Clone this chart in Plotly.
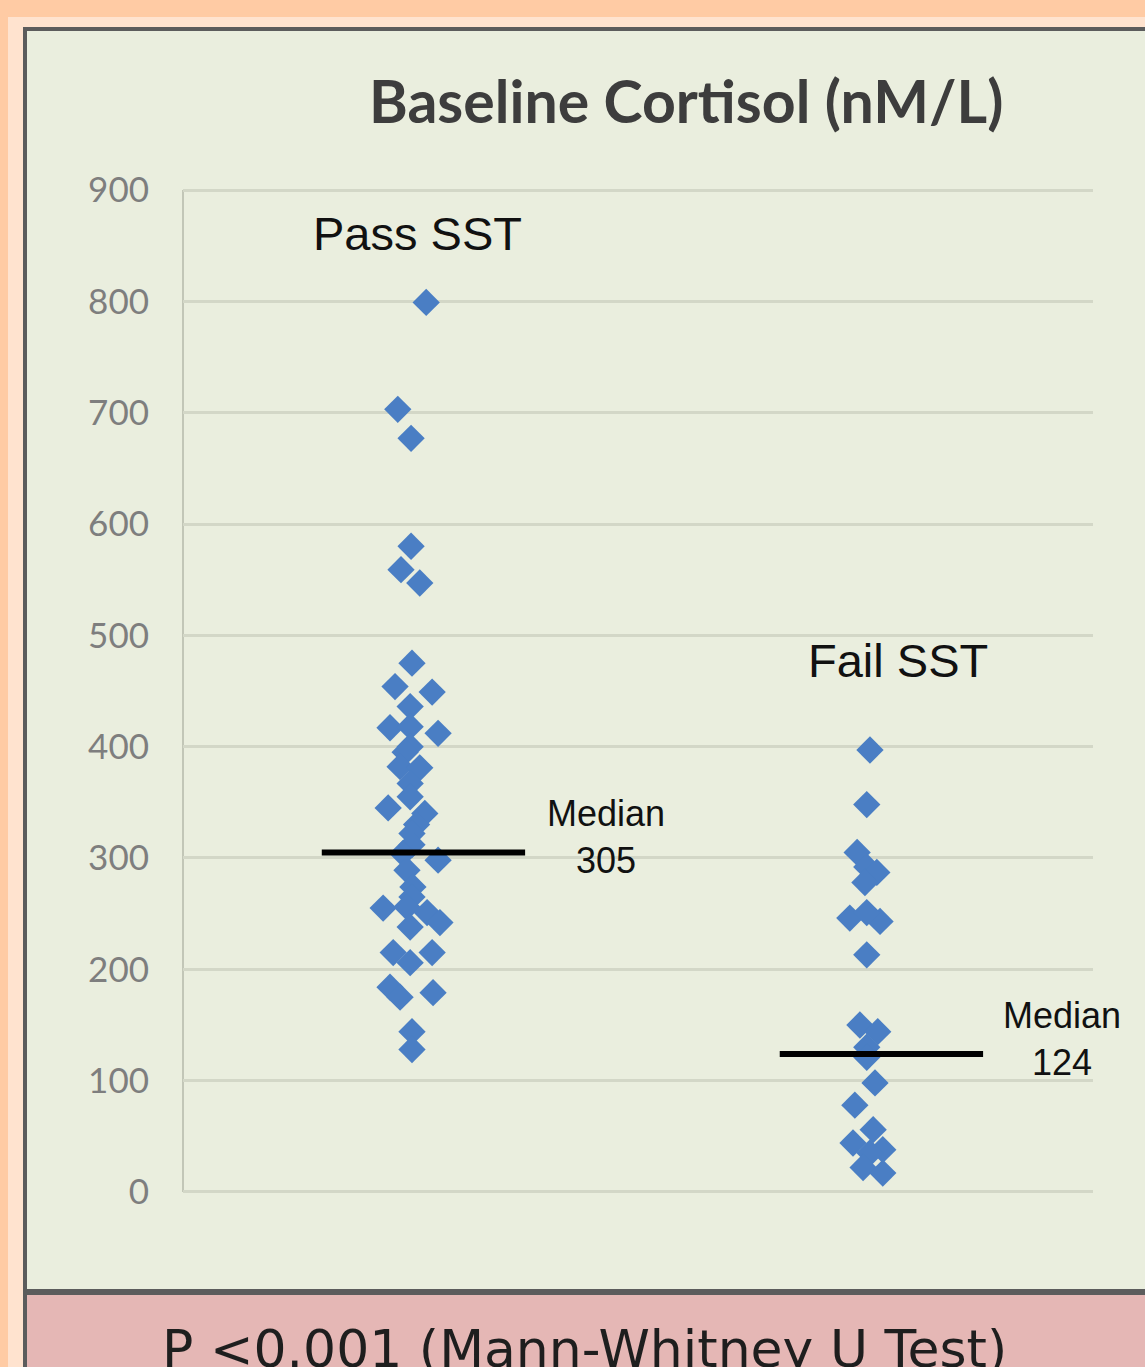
import plotly.graph_objects as go

# ---- data -------------------------------------------------------------
groups = ["Pass SST", "Fail SST"]
group_pos = [1.0, 2.0]

pass_x = [1.031, 0.969, 0.998, 0.998, 0.976, 1.017, 1.000, 0.963, 1.044, 0.996,
          0.952, 0.996, 1.057, 0.996, 0.985, 0.974, 1.017, 0.996, 0.996, 0.948,
          1.028, 1.010, 1.000, 1.000, 0.980, 1.057, 0.989, 1.002, 1.000, 0.937,
          0.989, 1.033, 1.061, 0.996, 0.959, 1.044, 0.996, 0.952, 0.974, 1.046,
          1.000, 1.000]
pass_y = [799, 703, 677, 580, 559, 547, 475, 454, 449, 436,
          417, 418, 412, 400, 395, 382, 381, 367, 355, 345,
          340, 330, 322, 312, 304, 298, 289, 274, 265, 255,
          256, 251, 242, 238, 215, 215, 206, 184, 175, 179,
          144, 128]

fail_x = [2.000, 1.993, 1.972, 1.993, 2.015, 1.989, 1.956, 2.022, 1.993, 1.993,
          1.978, 2.017, 1.993, 1.993, 2.011, 1.967, 2.007, 1.963, 2.028, 2.000,
          1.985, 2.028]
fail_y = [397, 348, 305, 292, 287, 278, 246, 243, 251, 213,
          150, 144, 130, 121, 98, 78, 56, 44, 38, 35,
          22, 17]

medians = [305, 124]
y_ticks = list(range(0, 901, 100))

title_text = "Baseline Cortisol (nM/L)"
test_text = "P <0.001 (Mann-Whitney U Test)"

# ---- page geometry (pixels) -------------------------------------------
W, H = 1145, 1367
PL, PR, PT, PB = 183, 1093, 180, 1202   # plot area edges (range -9..909)
Y_RANGE = [-9, 909]


def px(xp):
    return (xp - PL) / (PR - PL)


def py(yp):
    return (PB - yp) / (PB - PT)


MARKER = dict(symbol="diamond", size=21, color="#4A7EC4", line=dict(width=0))

fig = go.Figure()
fig.add_trace(go.Scatter(x=pass_x, y=pass_y, mode="markers", marker=MARKER,
                         cliponaxis=False, hoverinfo="y", name=groups[0]))
fig.add_trace(go.Scatter(x=fail_x, y=fail_y, mode="markers", marker=MARKER,
                         cliponaxis=False, hoverinfo="y", name=groups[1]))

# median bars, slightly right of each column centre
for pos, med in zip(group_pos, medians):
    c = pos + 0.025
    fig.add_trace(go.Scatter(x=[c - 0.222, c + 0.222], y=[med, med], mode="lines",
                             line=dict(color="black", width=6), cliponaxis=False,
                             hoverinfo="skip", showlegend=False))

shapes = [
    # light inner strip of the frame
    dict(type="rect", xref="paper", yref="paper", x0=px(8), x1=px(W + 20),
         y0=py(H + 20), y1=py(17), fillcolor="#FFE3CF", line=dict(width=0), layer="below"),
    # dark outline of the chart box
    dict(type="rect", xref="paper", yref="paper", x0=px(23), x1=px(W + 20),
         y0=py(H + 20), y1=py(27), fillcolor="#5C5C5C", line=dict(width=0), layer="below"),
    # chart background
    dict(type="rect", xref="paper", yref="paper", x0=px(27), x1=px(W + 20),
         y0=py(1289), y1=py(31), fillcolor="#EAEEDE", line=dict(width=0), layer="below"),
    # statistics panel
    dict(type="rect", xref="paper", yref="paper", x0=px(27), x1=px(W + 20),
         y0=py(H + 20), y1=py(1295), fillcolor="#E5B7B5", line=dict(width=0), layer="below"),
    # vertical value axis from 0 to 900
    dict(type="line", xref="paper", yref="y", x0=0, x1=0, y0=y_ticks[0], y1=y_ticks[-1],
         line=dict(color="#B5B8AA", width=1.5), layer="below"),
]

LAB = "Liberation Sans, Arial, sans-serif"
annotations = [
    dict(text="<b>" + title_text + "</b>", xref="paper", yref="paper",
         x=px(686), y=py(101), xanchor="center", yanchor="middle", showarrow=False,
         font=dict(family="Lato, sans-serif", size=59, color="#3D3D3D")),
    dict(text=groups[0], xref="x", yref="y", x=group_pos[0] + 0.011, y=861,
         xanchor="center", yanchor="middle", showarrow=False,
         font=dict(family=LAB, size=47, color="#111111")),
    dict(text=groups[1], xref="x", yref="y", x=group_pos[1] + 0.062, y=477,
         xanchor="center", yanchor="middle", showarrow=False,
         font=dict(family=LAB, size=47, color="#111111")),
    dict(text=f"Median<br>{medians[0]}", xref="x", yref="y", x=group_pos[0] + 0.424, y=319,
         xanchor="center", yanchor="middle", showarrow=False,
         font=dict(family=LAB, size=36, color="#111111")),
    dict(text=f"Median<br>{medians[1]}", xref="x", yref="y", x=group_pos[1] + 0.419, y=137,
         xanchor="center", yanchor="middle", showarrow=False,
         font=dict(family=LAB, size=36, color="#111111")),
    dict(text=test_text, xref="paper", yref="paper", x=px(584), y=py(1349),
         xanchor="center", yanchor="middle", showarrow=False,
         font=dict(family="DejaVu Sans, sans-serif", size=52, color="#1E1E1E")),
]

fig.update_layout(
    width=W, height=H,
    margin=dict(l=PL, r=W - PR, t=PT, b=H - PB, pad=0),
    paper_bgcolor="#FFCBA4",
    plot_bgcolor="rgba(0,0,0,0)",
    showlegend=False,
    shapes=shapes,
    annotations=annotations,
    xaxis=dict(range=[0.5, 2.487], visible=False, fixedrange=True),
    yaxis=dict(range=Y_RANGE, tickvals=y_ticks, ticktext=[str(v) for v in y_ticks],
               showgrid=True, gridcolor="#D3D7C7", gridwidth=3, zeroline=False,
               showline=False, ticks="", ticklabelstandoff=33,
               tickfont=dict(family="Lato, sans-serif", size=35, color="#7E7E7E"),
               fixedrange=True),
)

fig.write_html("out.html")
